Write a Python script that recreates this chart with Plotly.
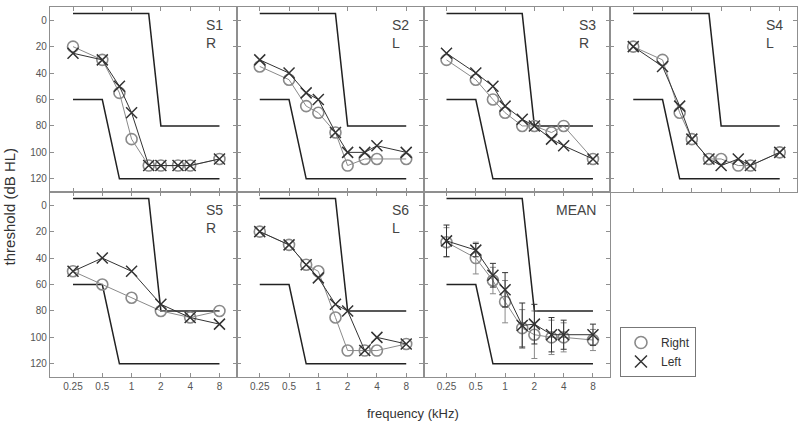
import plotly.graph_objects as go
from plotly.subplots import make_subplots
import math

# ---------------- data ----------------
freqs = [0.25, 0.5, 0.75, 1, 1.5, 2, 3, 4, 8]
freqs_oct = [0.25, 0.5, 1, 2, 4, 8]

S1_R = [20, 30, 55, 90, 110, 110, 110, 110, 105]
S1_L = [25, 30, 50, 70, 110, 110, 110, 110, 105]
S2_R = [35, 45, 65, 70, 85, 110, 105, 105, 105]
S2_L = [30, 40, 55, 60, 85, 100, 100, 95, 100]
S3_R = [30, 45, 60, 70, 80, 80, 85, 80, 105]
S3_L = [25, 40, 50, 65, 75, 80, 90, 95, 105]
S4_R = [20, 30, 70, 90, 105, 105, 110, 110, 100]
S4_L = [20, 35, 65, 90, 105, 110, 105, 110, 100]
S5_R = [50, 60, 70, 80, 85, 80]
S5_L = [50, 40, 50, 75, 85, 90]
S6_R = [20, 30, 45, 50, 85, 110, 110, 110, 105]
S6_L = [20, 30, 45, 55, 75, 80, 110, 100, 105]
MEAN_R = [28, 40, 57, 73, 93, 98, 100, 100, 102]
MEAN_L = [27, 34, 53, 64, 91, 90, 98, 98, 98]
SD_R = [11, 12, 10, 16, 14, 18, 13, 11, 8]
SD_L = [12, 5, 9, 13, 17, 15, 13, 11, 8]

upper_f = [0.25, 1.5, 2, 8]
upper_db = [-5, -5, 80, 80]
lower_f = [0.25, 0.5, 0.75, 8]
lower_db = [60, 60, 120, 120]

panels = [
    ("S1<br>R", freqs, S1_R, S1_L),
    ("S2<br>L", freqs, S2_R, S2_L),
    ("S3<br>R", freqs, S3_R, S3_L),
    ("S4<br>L", freqs, S4_R, S4_L),
    ("S5<br>R", freqs_oct, S5_R, S5_L),
    ("S6<br>L", freqs, S6_R, S6_L),
    ("MEAN", freqs, MEAN_R, MEAN_L),
]

tick_vals = [0.25, 0.5, 1, 2, 4, 8]
tick_text = ["0.25", "0.5", "1", "2", "4", "8"]
y_ticks = [0, 20, 40, 60, 80, 100, 120]

# ---------------- styles ----------------
FONT = "Arial, Liberation Sans, sans-serif"
FRAME = "#8f8f8f"
RIGHT_C = "#8a8a8a"
LEFT_C = "#333333"
BOUND_C = "#222222"

fig = make_subplots(rows=2, cols=4, horizontal_spacing=0, vertical_spacing=0)

for i, (label, fx, r, l) in enumerate(panels):
    row, col = i // 4 + 1, i % 4 + 1
    fig.add_trace(go.Scatter(x=upper_f, y=upper_db, mode="lines",
                             line=dict(color=BOUND_C, width=1.5),
                             showlegend=False, hoverinfo="skip"), row=row, col=col)
    fig.add_trace(go.Scatter(x=lower_f, y=lower_db, mode="lines",
                             line=dict(color=BOUND_C, width=1.5),
                             showlegend=False, hoverinfo="skip"), row=row, col=col)
    is_mean = label == "MEAN"
    fig.add_trace(go.Scatter(
        x=fx, y=r, mode="lines+markers",
        line=dict(color=RIGHT_C, width=1),
        marker=dict(symbol="circle-open", size=11, color=RIGHT_C, line=dict(width=1.6)),
        error_y=dict(type="data", array=SD_R, color=RIGHT_C, thickness=1, width=3) if is_mean else None,
        showlegend=False), row=row, col=col)
    fig.add_trace(go.Scatter(
        x=fx, y=l, mode="lines+markers",
        line=dict(color=LEFT_C, width=1),
        marker=dict(symbol="x-thin-open", size=11, color=LEFT_C, line=dict(width=1.5, color=LEFT_C)),
        error_y=dict(type="data", array=SD_L, color=LEFT_C, thickness=1, width=3) if is_mean else None,
        showlegend=False), row=row, col=col)
    ax = "x" if i == 0 else f"x{i+1}"
    ay = "y" if i == 0 else f"y{i+1}"
    fig.add_annotation(text=label, xref=f"{ax} domain", yref=f"{ay} domain",
                       x=0.935, y=0.955, xanchor="right", yanchor="top", align="left",
                       showarrow=False, font=dict(family=FONT, size=14, color="#444"))

# legend-only traces
fig.add_trace(go.Scatter(x=[None], y=[None], mode="markers", name="Right",
                         marker=dict(symbol="circle-open", size=12, color=RIGHT_C, line=dict(width=1.6))),
              row=2, col=4)
fig.add_trace(go.Scatter(x=[None], y=[None], mode="markers", name="Left",
                         marker=dict(symbol="x-thin-open", size=12, color=LEFT_C, line=dict(width=1.5, color=LEFT_C))),
              row=2, col=4)

x0 = math.log10(0.25) - 0.785 * math.log10(2)
xr = [x0, x0 + 6.375 * math.log10(2)]

fig.update_xaxes(type="log", range=xr, tickvals=tick_vals, ticktext=tick_text,
                 showgrid=False, zeroline=False, showline=True, linecolor=FRAME, linewidth=1.2,
                 mirror="ticks", ticks="inside", ticklen=4, tickcolor=FRAME,
                 tickfont=dict(family=FONT, size=10, color="#555"), showticklabels=False)
fig.update_yaxes(range=[130, -10], tickvals=y_ticks,
                 showgrid=False, zeroline=False, showline=True, linecolor=FRAME, linewidth=1.2,
                 mirror="ticks", ticks="inside", ticklen=4, tickcolor=FRAME,
                 tickfont=dict(family=FONT, size=10, color="#555"), showticklabels=False)
for c in (1, 2, 3):
    fig.update_xaxes(showticklabels=True, row=2, col=c)
fig.update_yaxes(showticklabels=True, row=1, col=1)
fig.update_yaxes(showticklabels=True, row=2, col=1)
fig.update_xaxes(visible=False, row=2, col=4)
fig.update_yaxes(visible=False, row=2, col=4)

fig.add_annotation(text="threshold (dB HL)", xref="paper", yref="paper",
                   x=-0.054, y=0.46, xanchor="center", yanchor="middle",
                   textangle=-90, showarrow=False,
                   font=dict(family=FONT, size=15, color="#333"))
fig.add_annotation(text="frequency (kHz)", xref="paper", yref="paper",
                   x=0.486, y=-0.098, xanchor="center", yanchor="middle", showarrow=False,
                   font=dict(family=FONT, size=13, color="#333"))

fig.update_layout(
    width=800, height=427,
    margin=dict(l=50, r=3, t=7, b=50),
    plot_bgcolor="white", paper_bgcolor="white",
    font=dict(family=FONT),
    legend=dict(x=0.763, y=0.0, xanchor="left", yanchor="bottom",
                bordercolor="#777", borderwidth=1, bgcolor="white",
                font=dict(family=FONT, size=12, color="#333"),
                tracegroupgap=0, itemwidth=30),
)

fig.write_html("out.html", config={"displayModeBar": False},
               post_script="document.body.style.margin='0';document.body.style.overflow='hidden';")
